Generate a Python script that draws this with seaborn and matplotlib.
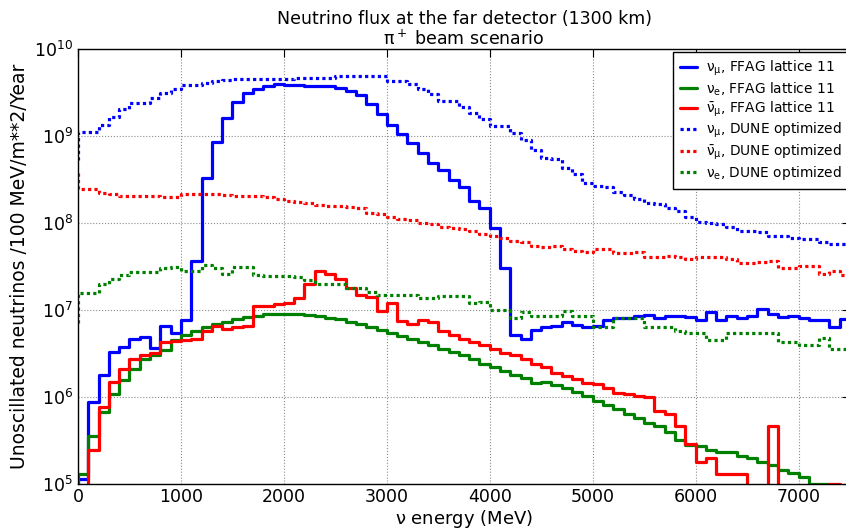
import numpy as np
import matplotlib
matplotlib.use("Agg")
import matplotlib.pyplot as plt
import seaborn as sns

# ---------------- data (100 MeV bins, 0 .. 7500 MeV) ----------------
bin_edges_mev = np.arange(0, 7501, 100)

# FFAG lattice 11 (histograms); 0 = below the plotted range
numu_ffag = [1.15e5, 8.7e5, 1.8e6, 3.3e6, 3.8e6, 4.6e6, 4.9e6, 3.7e6, 6.6e6, 5.5e6,
             7.6e6, 3.7e7, 3.3e8, 8.6e8, 1.6e9, 2.45e9, 3.1e9, 3.5e9, 3.75e9, 4.0e9,
             3.9e9, 3.85e9, 3.8e9, 3.8e9, 3.75e9, 3.55e9, 3.3e9, 2.95e9, 2.35e9, 1.8e9,
             1.35e9, 1.05e9, 8.3e8, 6.3e8, 4.9e8, 4.1e8, 3.1e8, 2.6e8, 1.8e8, 1.5e8,
             8.7e7, 3.0e7, 5.2e6, 4.7e6, 5.9e6, 6.4e6, 6.6e6, 7.2e6, 6.7e6, 6.3e6,
             6.6e6, 7.6e6, 8.0e6, 8.0e6, 8.5e6, 8.7e6, 8.0e6, 8.5e6, 8.5e6, 8.4e6,
             7.7e6, 9.5e6, 7.7e6, 8.5e6, 8.0e6, 8.5e6, 1.02e7, 9.0e6, 8.4e6, 8.5e6,
             8.0e6, 7.6e6, 7.7e6, 6.4e6, 7.9e6]
nue_ffag = [1.3e5, 3.6e5, 6.7e5, 1.07e6, 1.57e6, 2.1e6, 2.7e6, 3.0e6, 3.5e6, 4.5e6,
            5.2e6, 5.7e6, 6.3e6, 6.9e6, 7.3e6, 7.8e6, 8.2e6, 8.6e6, 8.9e6, 9.1e6,
            9.1e6, 9.0e6, 8.7e6, 8.5e6, 8.1e6, 7.8e6, 7.3e6, 6.9e6, 6.3e6, 5.9e6,
            5.5e6, 5.0e6, 4.7e6, 4.3e6, 4.0e6, 3.6e6, 3.3e6, 3.0e6, 2.7e6, 2.4e6,
            2.2e6, 2.0e6, 1.8e6, 1.64e6, 1.46e6, 1.5e6, 1.38e6, 1.26e6, 1.15e6, 1.03e6,
            9.1e5, 8.1e5, 7.3e5, 6.4e5, 5.7e5, 5.0e5, 4.6e5, 4.0e5, 3.2e5, 2.8e5,
            2.7e5, 2.45e5, 2.35e5, 2.35e5, 2.1e5, 2.0e5, 1.8e5, 1.65e5, 1.45e5, 1.35e5,
            1.2e5, 1.01e5, 1.01e5, 0, 0]
numubar_ffag = [0, 2.45e5, 7.6e5, 1.5e6, 2.1e6, 2.7e6, 3.0e6, 3.2e6, 4.3e6, 4.4e6,
                4.5e6, 4.7e6, 5.7e6, 6.6e6, 6.0e6, 6.3e6, 6.6e6, 1.1e7, 1.12e7, 1.18e7,
                1.2e7, 1.38e7, 2.0e7, 2.8e7, 2.6e7, 2.25e7, 1.8e7, 1.5e7, 1.42e7, 9.8e6,
                1.2e7, 7.4e6, 6.9e6, 7.7e6, 7.3e6, 5.7e6, 5.2e6, 4.7e6, 4.3e6, 4.0e6,
                3.55e6, 3.2e6, 3.0e6, 2.7e6, 2.4e6, 2.2e6, 1.9e6, 1.74e6, 1.6e6, 1.46e6,
                1.4e6, 1.26e6, 1.12e6, 1.08e6, 1.03e6, 1.0e6, 6.9e5, 6.3e5, 4.7e5, 2.9e5,
                1.8e5, 1.97e5, 1.3e5, 1.3e5, 1.3e5, 0, 0, 4.6e5, 0, 0,
                0, 0, 0, 1.01e5, 0]

# DUNE optimized: value at the first edge, then one value per bin
numu_dune_start = 5.3e8
numu_dune = [1.1e9, 1.1e9, 1.34e9, 1.66e9, 2.03e9, 2.4e9, 2.4e9, 2.75e9, 3.1e9, 3.5e9,
             3.9e9, 3.9e9, 4.1e9, 4.25e9, 4.4e9, 4.5e9, 4.5e9, 4.55e9, 4.55e9, 4.55e9,
             4.55e9, 4.6e9, 4.6e9, 4.6e9, 4.6e9, 4.9e9, 4.9e9, 4.9e9, 4.9e9, 4.9e9,
             4.3e9, 4.25e9, 4.0e9, 3.5e9, 3.0e9, 2.55e9, 2.5e9, 2.14e9, 1.83e9, 1.55e9,
             1.32e9, 1.32e9, 1.07e9, 8.9e8, 6.9e8, 5.6e8, 5.5e8, 4.3e8, 3.7e8, 2.9e8,
             2.66e8, 2.6e8, 2.3e8, 2.1e8, 1.9e8, 1.68e8, 1.65e8, 1.48e8, 1.38e8, 1.18e8,
             1.03e8, 1.0e8, 9.8e7, 9.1e7, 8.1e7, 8.0e7, 7.8e7, 7.1e7, 7.0e7, 6.7e7,
             6.6e7, 6.5e7, 6.1e7, 5.75e7, 5.75e7]
numubar_dune_start = 3.8e8
numubar_dune = [2.45e8, 2.45e8, 2.2e8, 2.15e8, 2.07e8, 2.07e8, 2.07e8, 2.07e8, 2.0e8, 2.0e8,
                2.14e8, 2.14e8, 2.14e8, 2.14e8, 2.1e8, 2.07e8, 2.07e8, 2.05e8, 2.0e8, 1.89e8,
                1.79e8, 1.76e8, 1.7e8, 1.63e8, 1.58e8, 1.55e8, 1.51e8, 1.47e8, 1.32e8, 1.28e8,
                1.18e8, 1.11e8, 1.09e8, 1.0e8, 9.8e7, 9.1e7, 8.8e7, 8.5e7, 8.0e7, 7.5e7,
                7.0e7, 6.8e7, 6.2e7, 6.0e7, 5.5e7, 5.3e7, 5.4e7, 5.0e7, 4.8e7, 4.7e7,
                5.0e7, 5.0e7, 4.5e7, 4.5e7, 4.6e7, 4.1e7, 4.1e7, 4.2e7, 4.1e7, 3.9e7,
                4.1e7, 4.1e7, 4.1e7, 3.9e7, 3.5e7, 3.5e7, 3.6e7, 3.7e7, 3.0e7, 3.0e7,
                3.2e7, 3.2e7, 2.6e7, 2.8e7, 2.5e7]
nue_dune_start = 7.0e6
nue_dune = [1.55e7, 1.55e7, 2.0e7, 2.3e7, 2.5e7, 2.7e7, 2.75e7, 2.75e7, 3.0e7, 3.1e7,
            2.8e7, 2.8e7, 3.3e7, 3.0e7, 2.6e7, 3.1e7, 3.1e7, 2.5e7, 2.45e7, 2.45e7,
            2.45e7, 2.38e7, 2.2e7, 2.0e7, 2.0e7, 2.0e7, 1.78e7, 1.78e7, 1.63e7, 1.5e7,
            1.5e7, 1.5e7, 1.5e7, 1.37e7, 1.37e7, 1.45e7, 1.45e7, 1.45e7, 1.2e7, 1.22e7,
            1.0e7, 1.0e7, 8.0e6, 9.5e6, 8.6e6, 8.6e6, 8.5e6, 9.8e6, 8.6e6, 8.6e6,
            6.4e6, 6.4e6, 8.0e6, 8.0e6, 8.0e6, 6.4e6, 6.4e6, 6.4e6, 5.8e6, 5.5e6,
            5.5e6, 4.5e6, 4.5e6, 5.4e6, 5.4e6, 5.4e6, 5.4e6, 5.4e6, 4.3e6, 4.3e6,
            4.0e6, 4.0e6, 4.8e6, 3.6e6, 3.6e6]

labels = [r"$\nu_\mu$, FFAG lattice 11", r"$\nu_e$, FFAG lattice 11",
          r"$\bar{\nu}_\mu$, FFAG lattice 11", r"$\nu_\mu$, DUNE optimized",
          r"$\bar{\nu}_\mu$, DUNE optimized", r"$\nu_e$, DUNE optimized"]
x_ticks = [0, 1000, 2000, 3000, 4000, 5000, 6000, 7000]

# ---------------- plotting ----------------
sns.set_theme(style="white")
plt.rcParams['font.family'] = ['DejaVu Sans']
plt.rcParams['mathtext.fontset'] = 'dejavusans'
plt.rcParams['mathtext.default'] = 'regular'
for k in ['text.color', 'axes.labelcolor', 'xtick.color', 'ytick.color']:
    plt.rcParams[k] = 'black'

fig = plt.figure(figsize=(8.46, 5.31), dpi=100)
ax = fig.add_axes([78/846, 1-484/531, (850-78)/846, (484-49)/531])

series = [
    (0.0, numu_ffag, "blue", "-", labels[0]),
    (0.0, nue_ffag, "green", "-", labels[1]),
    (0.0, numubar_ffag, "red", "-", labels[2]),
    (numu_dune_start, numu_dune, "blue", (0, (1.0, 1.0)), labels[3]),
    (numubar_dune_start, numubar_dune, "red", (0, (1.0, 1.0)), labels[4]),
    (nue_dune_start, nue_dune, "green", (0, (1.0, 1.0)), labels[5]),
]
for start, vals, col, ls, lab in series:
    y = np.array([start] + list(vals), dtype=float)
    sns.lineplot(x=bin_edges_mev[:len(y)], y=y, ax=ax, color=col, linewidth=2.3,
                 linestyle=ls, drawstyle="steps-pre", label=lab,
                 errorbar=None, sort=False)

ax.set_yscale("log")
ax.set_xlim(0, 7500)
ax.set_ylim(1e5, 1e10)
ax.set_xticks(x_ticks)

ax.grid(True, which="major", color="0.55", linestyle=":", linewidth=0.8)
ax.tick_params(which="both", direction="in", top=True, right=True, labelsize=12.5,
               colors="black")
ax.tick_params(which="major", length=6, width=0.8)
ax.tick_params(which="minor", length=3, width=0.6)
ax.tick_params(axis="x", pad=3)
for s in ax.spines.values():
    s.set_color("black")
    s.set_linewidth(1.0)

ax.set_xlabel(r"$\nu$ energy (MeV)", fontsize=13, labelpad=1, color="black")
ax.set_ylabel("Unoscillated neutrinos /100 MeV/m**2/Year", fontsize=13.5, labelpad=4,
              color="black")
ax.set_title("Neutrino flux at the far detector (1300 km)\n" + r"$\pi^+$ beam scenario",
             fontsize=12.5, pad=3, linespacing=1.1, color="black")

leg = ax.legend(loc="upper right", bbox_to_anchor=(0.9985, 0.993), borderaxespad=0,
                fontsize=9.9, handlelength=1.25, frameon=True, fancybox=False,
                framealpha=1, edgecolor="black", labelspacing=0.15,
                borderpad=0.5, handletextpad=0.65)
leg.get_frame().set_linewidth(1.0)
for t in leg.get_texts():
    t.set_color("black")

fig.savefig("out.png", dpi=100)
